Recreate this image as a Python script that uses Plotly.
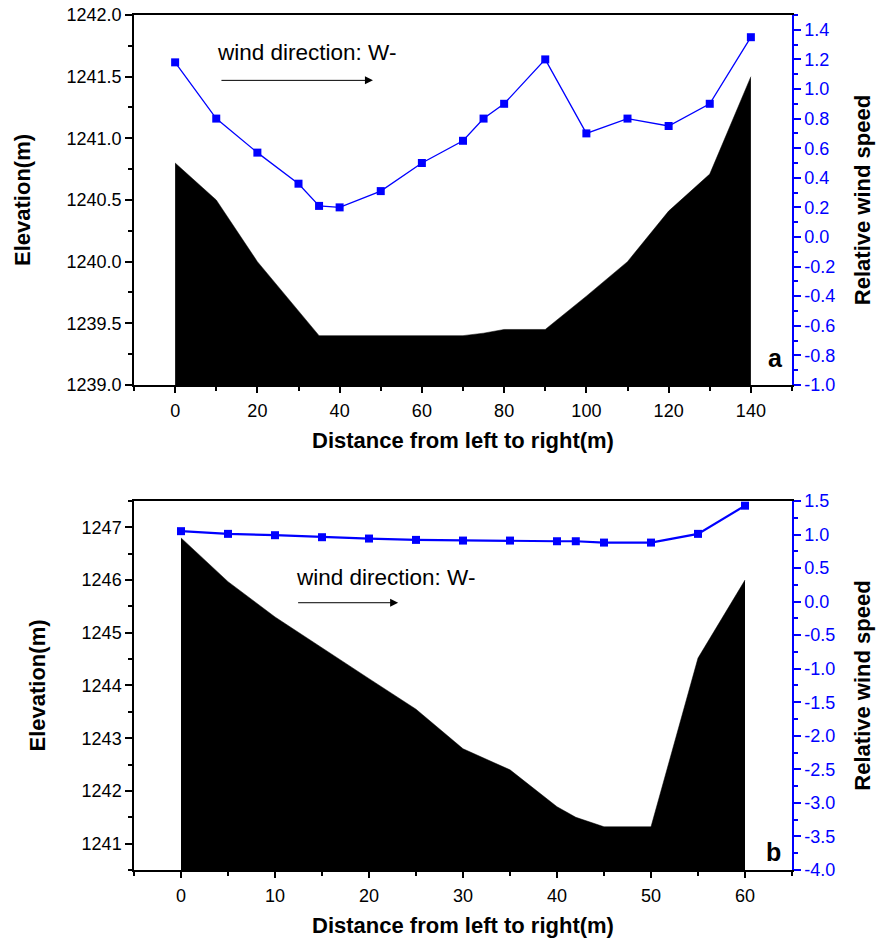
import plotly.graph_objects as go

# ---------------- Panel a ----------------
dist_a_elev = [0, 10, 20, 35, 70, 75, 80, 90, 100, 110, 120, 130, 140]
elev_a = [1240.80, 1240.50, 1240.00, 1239.40, 1239.40, 1239.42, 1239.45, 1239.45,
          1239.72, 1240.00, 1240.41, 1240.71, 1241.50]
dist_a_wind = [0, 10, 20, 30, 35, 40, 50, 60, 70, 75, 80, 90, 100, 110, 120, 130, 140]
wind_a = [1.18, 0.80, 0.57, 0.36, 0.21, 0.20, 0.31, 0.50, 0.65, 0.80, 0.90, 1.20,
          0.70, 0.80, 0.75, 0.90, 1.35]

# ---------------- Panel b ----------------
dist_b_elev = [0, 5, 10, 15, 20, 25, 30, 35, 40, 42, 45, 50, 55, 60]
elev_b = [1246.80, 1245.97, 1245.30, 1244.71, 1244.13, 1243.55, 1242.80, 1242.40,
          1241.70, 1241.50, 1241.32, 1241.32, 1244.52, 1246.00]
dist_b_wind = [0, 5, 10, 15, 20, 25, 30, 35, 40, 42, 45, 50, 55, 60]
wind_b = [1.05, 1.01, 0.99, 0.96, 0.94, 0.92, 0.91, 0.91, 0.90, 0.90, 0.88, 0.88,
          1.01, 1.43]

# Tick labels
a_left_vals = [1239.0, 1239.5, 1240.0, 1240.5, 1241.0, 1241.5, 1242.0]
a_left_text = ["1239.0", "1239.5", "1240.0", "1240.5", "1241.0", "1241.5", "1242.0"]
a_right_vals = [-1.0, -0.8, -0.6, -0.4, -0.2, 0.0, 0.2, 0.4, 0.6, 0.8, 1.0, 1.2, 1.4]
a_right_text = ["-1.0", "-0.8", "-0.6", "-0.4", "-0.2", "0.0", "0.2", "0.4", "0.6",
                "0.8", "1.0", "1.2", "1.4"]
a_x_vals = [0, 20, 40, 60, 80, 100, 120, 140]
b_left_vals = [1241, 1242, 1243, 1244, 1245, 1246, 1247]
b_left_text = ["1241", "1242", "1243", "1244", "1245", "1246", "1247"]
b_right_vals = [-4.0, -3.5, -3.0, -2.5, -2.0, -1.5, -1.0, -0.5, 0.0, 0.5, 1.0, 1.5]
b_right_text = ["-4.0", "-3.5", "-3.0", "-2.5", "-2.0", "-1.5", "-1.0", "-0.5",
                "0.0", "0.5", "1.0", "1.5"]
b_x_vals = [0, 10, 20, 30, 40, 50, 60]

FONT = "Liberation Sans, Arial, sans-serif"
BLUE = "#0000FF"
TICKF = dict(family=FONT, size=18, color="black")
TICKB = dict(family=FONT, size=18, color=BLUE)
TITLEF = dict(family=FONT, size=22, color="black", weight="bold")

fig = go.Figure()

fig.add_trace(go.Scatter(x=dist_a_elev, y=elev_a, mode="lines", fill="tozeroy",
                         fillcolor="black", line=dict(color="black", width=0.5),
                         xaxis="x", yaxis="y", showlegend=False, hoverinfo="skip"))
fig.add_trace(go.Scatter(x=dist_a_wind, y=wind_a, mode="lines+markers",
                         line=dict(color=BLUE, width=1.3),
                         marker=dict(symbol="square", size=8, color=BLUE),
                         xaxis="x", yaxis="y2", showlegend=False))
fig.add_trace(go.Scatter(x=dist_b_elev, y=elev_b, mode="lines", fill="tozeroy",
                         fillcolor="black", line=dict(color="black", width=0.5),
                         xaxis="x2", yaxis="y3", showlegend=False, hoverinfo="skip"))
fig.add_trace(go.Scatter(x=dist_b_wind, y=wind_b, mode="lines+markers",
                         line=dict(color=BLUE, width=2.2),
                         marker=dict(symbol="square", size=8, color=BLUE),
                         xaxis="x2", yaxis="y4", showlegend=False))

top_dom = [0.5673, 1.0]
bot_dom = [0.0, 0.4316]

def xax(rng, vals, minor_dt, anchor):
    return dict(range=rng, tickvals=vals, ticks="outside", ticklen=6, tickwidth=1.5,
                tickcolor="black", showline=True, linecolor="black", linewidth=1.5,
                mirror=True, showgrid=False, zeroline=False, anchor=anchor,
                tickfont=TICKF, ticklabelstandoff=3, domain=[0, 1], automargin=False,
                minor=dict(ticks="outside", ticklen=4, dtick=minor_dt, tickwidth=1.5,
                           tickcolor="black", showgrid=False),
                title=dict(text="Distance from left to right(m)", font=TITLEF, standoff=12))

def yleft(rng, vals, text, minor_dt, dom, anchor, standoff):
    return dict(range=rng, tickvals=vals, ticktext=text, domain=dom, anchor=anchor,
                ticks="outside", ticklen=7, tickwidth=1.5, tickcolor="black",
                showline=True, linecolor="black", linewidth=1.5, mirror=False,
                showgrid=False, zeroline=False, tickfont=TICKF, automargin=False,
                minor=dict(ticks="outside", ticklen=4, dtick=minor_dt, tickwidth=1.5,
                           tickcolor="black", showgrid=False),
                title=dict(text="Elevation(m)", font=TITLEF, standoff=standoff))

def yright(rng, vals, text, minor_dt, over, anchor):
    return dict(range=rng, tickvals=vals, ticktext=text, overlaying=over, side="right",
                anchor=anchor, ticks="outside", ticklen=7, tickwidth=1.5, tickcolor=BLUE,
                showline=True, linecolor=BLUE, linewidth=1.5, showgrid=False,
                zeroline=False, tickfont=TICKB, automargin=False,
                minor=dict(ticks="outside", ticklen=4, dtick=minor_dt, tickwidth=1.5,
                           tickcolor=BLUE, showgrid=False),
                title=dict(text="Relative wind speed", font=TITLEF, standoff=20))

fig.update_layout(
    width=880, height=938,
    margin=dict(l=134, r=88, t=15, b=68),
    paper_bgcolor="white", plot_bgcolor="white",
    font=dict(family=FONT),
    xaxis=xax([-10, 150], a_x_vals, 10, "y"),
    yaxis=yleft([1239.0, 1242.0], a_left_vals, a_left_text, 0.25, top_dom, "x", 30),
    yaxis2=yright([-1.0, 1.5], a_right_vals, a_right_text, 0.1, "y", "x"),
    xaxis2=xax([-5, 65], b_x_vals, 5, "y3"),
    yaxis3=yleft([1240.5, 1247.5], b_left_vals, b_left_text, 0.5, bot_dom, "x2", 30),
    yaxis4=yright([-4.0, 1.5], b_right_vals, b_right_text, 0.25, "y3", "x2"),
)

ANNF = dict(family=FONT, size=22.5, color="black")
fig.add_annotation(x=9.7, y=1241.70, xref="x", yref="y", text="wind direction: W-",
                   showarrow=False, xanchor="left", yanchor="middle", font=ANNF)
fig.add_annotation(x=48.1, y=1241.47, ax=10.9, ay=1241.47, xref="x", yref="y",
                   axref="x", ayref="y", text="", showarrow=True, arrowhead=2,
                   arrowsize=1.6, arrowwidth=1, arrowcolor="black")
fig.add_annotation(x=12.0, y=1246.04, xref="x2", yref="y3", text="wind direction: W-",
                   showarrow=False, xanchor="left", yanchor="middle", font=ANNF)
fig.add_annotation(x=23.1, y=1245.57, ax=12.3, ay=1245.57, xref="x2", yref="y3",
                   axref="x2", ayref="y3", text="", showarrow=True, arrowhead=2,
                   arrowsize=1.6, arrowwidth=1, arrowcolor="black")
PANF = dict(family=FONT, size=25, color="black", weight="bold")
fig.add_annotation(x=146, y=1239.22, xref="x", yref="y", text="a", showarrow=False,
                   font=PANF, xanchor="center", yanchor="middle")
fig.add_annotation(x=63.0, y=1240.85, xref="x2", yref="y3", text="b", showarrow=False,
                   font=PANF, xanchor="center", yanchor="middle")

fig.write_html("out.html")
